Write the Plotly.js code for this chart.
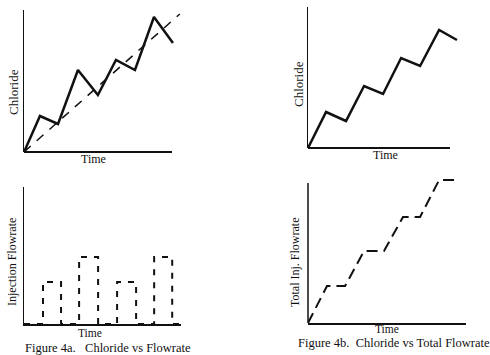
<!DOCTYPE html>
<html><head><meta charset="utf-8">
<script src="https://cdn.plot.ly/plotly-3.0.1.min.js"></script>
<style>html,body{margin:0;padding:0;background:#fff;}#chart{width:490px;height:355px;}</style>
</head><body><div id="chart"></div>
<script>
// Figure 4a top: Chloride vs Time (solid) and trend (dashed)
const chlorA_t = [0, 0.84, 1.79, 2.84, 3.89, 4.84, 5.84, 6.84, 7.84];
const chlorA_v = [0, 3.6, 2.8, 8.2, 5.7, 9.2, 8.2, 13.5, 10.9];
const trendA_t = [0, 8.2];
const trendA_v = [0, 13.8];
// Figure 4a bottom: Injection flowrate pulses
const injA_t = [0, 1.0, 1.0, 1.95, 1.95, 2.9, 2.9, 3.9, 3.9, 4.9, 4.9, 5.9, 5.9, 6.85, 6.85, 7.8, 7.8, 8.2];
const injA_v = [0, 0, 4.2, 4.2, 0, 0, 6.7, 6.7, 0, 0, 4.2, 4.2, 0, 0, 6.7, 6.7, 0, 0];
// Figure 4b top: Chloride vs Time
const chlorB_t = [0, 0.95, 2.0, 2.95, 3.95, 4.9, 5.9, 6.9, 7.84];
const chlorB_v = [0, 3.6, 2.7, 6.2, 5.4, 9.0, 8.2, 11.8, 10.8];
// Figure 4b bottom: Total injection flowrate
const totB_t = [0, 1.0, 1.95, 2.95, 4.0, 5.0, 5.9, 6.9, 7.95];
const totB_v = [0, 3.7, 3.7, 7.2, 7.2, 10.6, 10.6, 14.3, 14.3];

const labels = {
  chloride: 'Chloride', time: 'Time',
  inj: 'Injection Flowrate', tot: 'Total Inj. Flowrate',
  capA: 'Figure 4a.&nbsp;&nbsp; Chloride vs Flowrate', capB: 'Figure 4b.&nbsp; Chloride vs Total Flowrate'
};

const W = 490, H = 355;
const px = x => x / W;
const py = y => 1 - y / H;
const ink = '#111';
const font = '"Liberation Serif", "Times New Roman", serif';

const traces = [
  {x: chlorA_t, y: chlorA_v, xaxis: 'x', yaxis: 'y', mode: 'lines', line: {color: ink, width: 2.5}},
  {x: trendA_t, y: trendA_v, xaxis: 'x', yaxis: 'y', mode: 'lines', line: {color: ink, width: 1.5, dash: '9px,8px'}},
  {x: chlorB_t, y: chlorB_v, xaxis: 'x2', yaxis: 'y2', mode: 'lines', line: {color: ink, width: 2.5}},
  {x: injA_t, y: injA_v, xaxis: 'x3', yaxis: 'y3', mode: 'lines', line: {color: ink, width: 2, dash: '6px,7px'}},
  {x: totB_t, y: totB_v, xaxis: 'x4', yaxis: 'y4', mode: 'lines', line: {color: ink, width: 2, dash: '11px,6px'}}
];

function ax(d0, d1, r, showline, anchor, lw) {
  return {domain: [d0, d1], range: r, showline: showline, linecolor: ink, linewidth: lw || 1.5,
    showgrid: false, zeroline: false, showticklabels: false, ticks: '', anchor: anchor, fixedrange: true};
}

const layout = {
  width: W, height: H, margin: {l: 0, r: 0, t: 0, b: 0},
  paper_bgcolor: '#fff', plot_bgcolor: 'rgba(0,0,0,0)', showlegend: false,
  font: {family: font, color: ink, size: 12},
  xaxis: ax(px(24), px(181), [0, 157/19], false, 'y'),
  yaxis: ax(py(152), py(10), [0, 14.2], true, 'x'),
  xaxis2: ax(px(308), px(458), [0, 150/19], false, 'y2'),
  yaxis2: ax(py(148), py(7), [0, 14.1], true, 'x2'),
  xaxis3: ax(px(24), px(181), [0, 157/19], true, 'y3', 2),
  yaxis3: ax(py(324), py(187), [0, 13.7], true, 'x3'),
  xaxis4: ax(px(308), px(466), [0, 158/19], true, 'y4', 2),
  yaxis4: ax(py(323), py(178), [0, 14.5], false, 'x4'),
  shapes: [
    {type: 'line', xref: 'x domain', yref: 'y domain', x0: 0, x1: 148/157, y0: 0, y1: 0, line: {color: ink, width: 2}},
    {type: 'line', xref: 'x2 domain', yref: 'y2 domain', x0: 0, x1: 142/150, y0: 0, y1: 0, line: {color: ink, width: 2}},
    {type: 'line', xref: 'x4 domain', yref: 'y4 domain', x0: 0, x1: 0, y0: 0, y1: 140/145, line: {color: ink, width: 1.5}}
  ],
  annotations: [
    {text: labels.chloride, x: px(13), y: py(92), textangle: -90, font: {size: 13}},
    {text: labels.chloride, x: px(298), y: py(84), textangle: -90, font: {size: 13}},
    {text: labels.inj, x: px(12), y: py(262), textangle: -90},
    {text: labels.tot, x: px(295), y: py(263), textangle: -90},
    {text: labels.time, x: px(93), y: py(159)},
    {text: labels.time, x: px(385), y: py(155)},
    {text: labels.time, x: px(90), y: py(332.5), font: {size: 11.5}},
    {text: labels.time, x: px(387), y: py(329), font: {size: 11.5}},
    {text: labels.capA, x: px(108), y: py(347.5), font: {size: 12.5}},
    {text: labels.capB, x: px(394), y: py(343), font: {size: 12.5}}
  ].map(a => Object.assign({xref: 'paper', yref: 'paper', showarrow: false, xanchor: 'center', yanchor: 'middle'}, a))
};

Plotly.newPlot('chart', traces, layout, {displayModeBar: false, staticPlot: true});
</script></body></html>
